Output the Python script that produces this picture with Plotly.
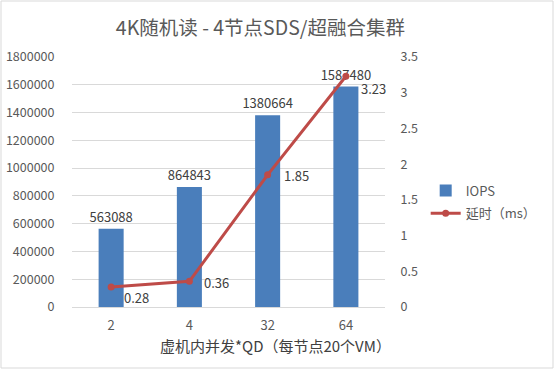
import plotly.graph_objects as go

categories = ["2", "4", "32", "64"]
iops = [563088, 864843, 1380664, 1587480]
latency = [0.28, 0.36, 1.85, 3.23]
latency_labels = ["0.28", "0.36", "1.85", "3.23"]
left_ticks = [0, 200000, 400000, 600000, 800000, 1000000, 1200000, 1400000, 1600000, 1800000]
right_ticks = [0, 0.5, 1, 1.5, 2, 2.5, 3, 3.5]
right_tick_text = ["0", "0.5", "1", "1.5", "2", "2.5", "3", "3.5"]

FONT = "Noto Sans CJK SC, Noto Sans, sans-serif"
GRAY = "#595959"

fig = go.Figure()
fig.add_trace(go.Bar(
    x=categories, y=iops, name="IOPS", legendgroup="a",
    marker=dict(color="#4A7EBB", line=dict(width=0)),
    text=[str(v) for v in iops], textposition="outside", constraintext="none",
    textfont=dict(size=13, color="#404040", family=FONT),
    cliponaxis=False,
))
fig.add_trace(go.Scatter(
    x=categories, y=latency, name="延时（ms）", yaxis="y2", legendgroup="b",
    mode="lines+markers",
    line=dict(color="#BE4B48", width=3),
    marker=dict(color="#BE4B48", size=7),
    cliponaxis=False,
))

# latency data labels placed next to points (x given as category index)
label_shifts = [(11, -10), (13, -1), (14, -1), (13, -12)]
annotations = []
for i, (val, txt, (dx, dy)) in enumerate(zip(latency, latency_labels, label_shifts)):
    annotations.append(dict(x=i, y=val, xref="x", yref="y2", text=txt, showarrow=False,
                            xanchor="left", yanchor="middle", xshift=dx, yshift=dy,
                            font=dict(size=13, color="#404040", family=FONT)))
annotations.append(dict(text="虚机内并发*QD（每节点20个VM）", xref="paper", yref="paper",
                        x=0.649, y=-0.152, xanchor="center", yanchor="middle", showarrow=False,
                        font=dict(size=15, color="#404040", family=FONT)))

fig.update_layout(
    width=554, height=369,
    margin=dict(l=72, r=169, t=57, b=62, autoexpand=False),
    paper_bgcolor="white", plot_bgcolor="white",
    font=dict(family=FONT, color=GRAY, size=13),
    title=dict(text="4K随机读 - 4节点SDS/超融合集群", x=0.47, xanchor="center",
               y=0.925, yanchor="middle", font=dict(size=19.5, color=GRAY, family=FONT)),
    bargap=0.68,
    showlegend=True,
    legend=dict(x=1.13, xanchor="left", y=0.42, yanchor="middle",
                font=dict(size=13, color=GRAY, family=FONT), tracegroupgap=3,
                bgcolor="rgba(0,0,0,0)"),
    annotations=annotations,
    xaxis=dict(type="category", range=[-0.5, len(categories) - 0.5],
               showgrid=False, showline=True, linecolor="#D9D9D9",
               automargin=False,
               ticks="outside", ticklen=6, tickcolor="rgba(0,0,0,0)",
               tickfont=dict(size=13, color=GRAY)),
    yaxis=dict(range=[0, 1800000], tickvals=left_ticks, ticktext=[str(v) for v in left_ticks],
               showgrid=True, gridcolor="#D9D9D9", gridwidth=1, zeroline=False,
               automargin=False,
               ticks="outside", ticklen=14, tickcolor="rgba(0,0,0,0)",
               tickfont=dict(size=12.5, color=GRAY)),
    yaxis2=dict(range=[0, 3.5], tickvals=right_ticks, ticktext=right_tick_text,
                overlaying="y", side="right", showgrid=False, zeroline=False,
                automargin=False,
                ticks="outside", ticklen=12, tickcolor="rgba(0,0,0,0)",
                tickfont=dict(size=12.5, color=GRAY)),
    shapes=[dict(type="rect", xref="paper", yref="paper",
                 x0=-72/313 + 1/313, x1=1 + 168/313, y0=-62/250 + 1/250, y1=1 + 56/250,
                 line=dict(color="#D9D9D9", width=1), fillcolor="rgba(0,0,0,0)", layer="below")],
)

fig.write_html("out.html", config={"displayModeBar": False},
               post_script="document.body.style.margin='0';document.body.style.overflow='hidden';")
